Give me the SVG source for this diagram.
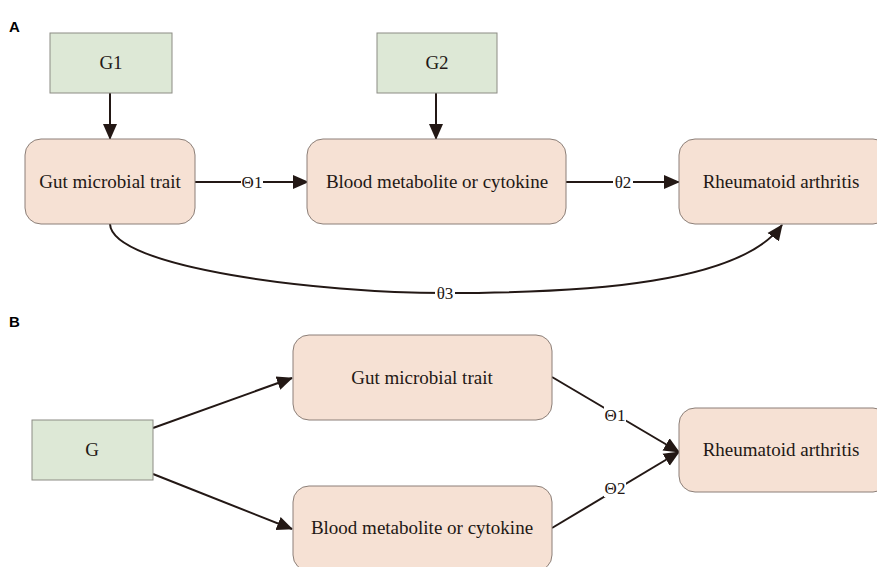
<svg xmlns="http://www.w3.org/2000/svg" width="877" height="567" viewBox="0 0 877 567">
<defs>
<style>
.g{fill:#dde8d6;stroke:#8c8c84;stroke-width:1}
.p{fill:#f6e1d4;stroke:#8c7f78;stroke-width:1}
.t{font-family:'Liberation Serif','Times New Roman',Times,'DejaVu Serif',serif;font-size:19px;fill:#231815;text-anchor:middle}
.l{font-family:'Liberation Serif','Times New Roman',Times,'DejaVu Serif',serif;font-size:17px;fill:#231815;text-anchor:middle}
.c{fill:none;stroke:#231815;stroke-width:2}
.pl{font-family:'Liberation Sans',Arial,sans-serif;font-size:15px;font-weight:bold;fill:#000}
</style>
<marker id="ah" markerUnits="userSpaceOnUse" markerWidth="16" markerHeight="16" viewBox="0 0 16 16" refX="15" refY="8" orient="auto">
<path d="M0,1 L16,8 L0,15 Z" fill="#231815"/>
</marker>
</defs>
<text class="pl" x="9" y="32">A</text>
<text class="pl" x="9" y="327">B</text>
<g id="connectors">
<line class="c" x1="110" y1="93" x2="110" y2="139" marker-end="url(#ah)"/>
<line class="c" x1="436" y1="93" x2="436" y2="139" marker-end="url(#ah)"/>
<line class="c" x1="195" y1="182" x2="308" y2="182" marker-end="url(#ah)"/>
<line class="c" x1="566" y1="182" x2="679" y2="182" marker-end="url(#ah)"/>
<path class="c" d="M110,224 C112,268 320,293 445,293 C590,293 740,283 782,225" marker-end="url(#ah)"/>
<line class="c" x1="153" y1="428" x2="292" y2="378" marker-end="url(#ah)"/>
<line class="c" x1="153" y1="474" x2="292" y2="529" marker-end="url(#ah)"/>
<line class="c" x1="552" y1="377" x2="679" y2="452" marker-end="url(#ah)"/>
<line class="c" x1="552" y1="528" x2="679" y2="452" marker-end="url(#ah)"/>
<rect x="241" y="173" width="22" height="18" fill="#fff"/>
<text class="l" x="252" y="188">Θ1</text>
<rect x="613" y="173" width="20" height="18" fill="#fff"/>
<text class="l" x="623" y="188">θ2</text>
<rect x="435" y="284" width="20" height="18" fill="#fff"/>
<text class="l" x="445" y="299">θ3</text>
<rect x="604" y="406" width="22" height="18" fill="#fff"/>
<text class="l" x="615" y="421">Θ1</text>
<rect x="604" y="479" width="22" height="18" fill="#fff"/>
<text class="l" x="615" y="494">Θ2</text>
</g>
<g id="G1"><rect class="g" x="50" y="33" width="122" height="60"/><text class="t" x="111" y="69">G1</text></g>
<g id="G2"><rect class="g" x="377" y="33" width="120" height="60"/><text class="t" x="437" y="69">G2</text></g>
<g id="gutA"><rect class="p" x="25" y="139" width="170" height="85" rx="16"/><text class="t" x="110" y="188">Gut microbial trait</text></g>
<g id="bloodA"><rect class="p" x="307" y="139" width="259" height="85" rx="16"/><text class="t" x="437" y="188">Blood metabolite or cytokine</text></g>
<g id="raA"><rect class="p" x="679" y="139" width="210" height="85" rx="16"/><text class="t" x="781" y="188">Rheumatoid arthritis</text></g>
<g id="G"><rect class="g" x="32" y="420" width="121" height="60"/><text class="t" x="92" y="456">G</text></g>
<g id="gutB"><rect class="p" x="293" y="335" width="259" height="85" rx="16"/><text class="t" x="422" y="384">Gut microbial trait</text></g>
<g id="bloodB"><rect class="p" x="293" y="486" width="259" height="85" rx="16"/><text class="t" x="422" y="534">Blood metabolite or cytokine</text></g>
<g id="raB"><rect class="p" x="679" y="408" width="210" height="84" rx="16"/><text class="t" x="781" y="456">Rheumatoid arthritis</text></g>
</svg>
